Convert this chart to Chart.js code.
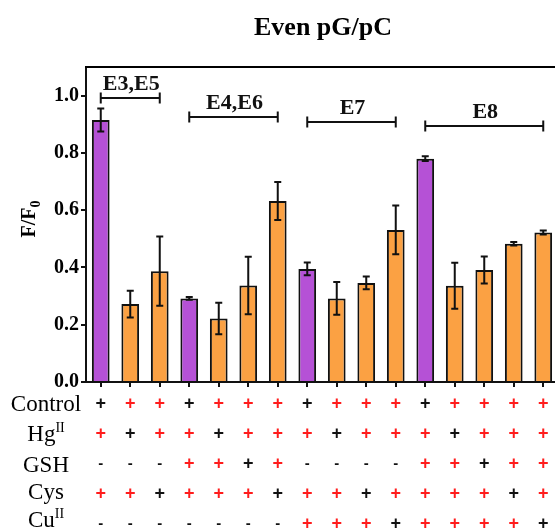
<!DOCTYPE html>
<html>
<head>
<meta charset="utf-8">
<script src="https://cdn.jsdelivr.net/npm/chart.js@4.4.1/dist/chart.umd.min.js"></script>
<style>
  html, body { margin: 0; padding: 0; background: #fff; overflow: hidden; }
  #wrap { position: relative; width: 558px; height: 531px; }
</style>
</head>
<body>
<div id="wrap"><canvas id="c" width="558" height="531"></canvas></div>
<script>
// ---- data ----
const chartTitle = 'Even pG/pC';
const categories = ['1','2','3','4','5','6','7','8','9','10','11','12','13','14','15','16'];
const values = [0.915, 0.272, 0.387, 0.292, 0.222, 0.337, 0.632, 0.395, 0.292, 0.346, 0.531, 0.780, 0.336, 0.391, 0.483, 0.522];
const errors = [0.040, 0.047, 0.121, 0.005, 0.055, 0.100, 0.066, 0.022, 0.057, 0.022, 0.085, 0.008, 0.080, 0.047, 0.006, 0.007];
const barType = ['P','O','O','P','O','O','O','P','O','O','O','P','O','O','O','O'];
const yTickValues = [0.0, 0.2, 0.4, 0.6, 0.8, 1.0];

const groupLabels = ['E3,E5', 'E4,E6', 'E7', 'E8'];
const groupStart = [0, 3, 7, 11];
const groupEnd   = [2, 6, 10, 15];
const groupLevel = [0.993, 0.925, 0.909, 0.895];

const rowNames = ['Control', 'Hg', 'GSH', 'Cys', 'Cu'];
const rowSups  = ['', 'II', '', '', 'II'];
// k = black "+", r = red "+", - = "-"
const rowControl = 'krrkrrrkrrrkrrrr'.split('');
const rowHg      = 'rkrrkrrrkrrrkrrr'.split('');
const rowGSH     = '---rrkr----rrkrr'.split('');
const rowCys     = 'rrkrrrkrrkrrrrkr'.split('');
const rowCu      = '-------rrrkrrrrk'.split('');
const tableRows = [rowControl, rowHg, rowGSH, rowCys, rowCu];

// ---- styles ----
const PURPLE = '#b551d6';
const ORANGE = '#fba143';
const RED = '#ff1c1c';
const SERIF = '"Liberation Serif", "Times New Roman", serif';
const SANS = '"Liberation Sans", Arial, sans-serif';

const decorPlugin = {
  id: 'decor',
  afterDatasetsDraw(chart) {
    const ctx = chart.ctx;
    const x = chart.scales.x, y = chart.scales.y;
    const area = chart.chartArea;
    ctx.save();
    // top frame line
    ctx.strokeStyle = '#000';
    ctx.lineWidth = 2;
    ctx.beginPath();
    ctx.moveTo(area.left - 1, area.top);
    ctx.lineTo(area.right + 5, area.top);
    ctx.stroke();

    // error bars
    ctx.lineWidth = 2;
    ctx.strokeStyle = '#111';
    values.forEach((v, i) => {
      const cx = x.getPixelForValue(i);
      const yt = y.getPixelForValue(v + errors[i]);
      const yb = y.getPixelForValue(v - errors[i]);
      ctx.beginPath();
      ctx.moveTo(cx, yt); ctx.lineTo(cx, yb);
      ctx.moveTo(cx - 3.5, yt); ctx.lineTo(cx + 3.5, yt);
      ctx.moveTo(cx - 3.5, yb); ctx.lineTo(cx + 3.5, yb);
      ctx.stroke();
    });

    // group brackets
    ctx.fillStyle = '#111';
    ctx.font = 'bold 22px ' + SERIF;
    ctx.textAlign = 'center';
    ctx.textBaseline = 'alphabetic';
    groupLabels.forEach((lab, g) => {
      const x1 = x.getPixelForValue(groupStart[g]);
      const x2 = x.getPixelForValue(groupEnd[g]);
      const yy = Math.round(y.getPixelForValue(groupLevel[g]));
      ctx.beginPath();
      ctx.moveTo(x1, yy); ctx.lineTo(x2, yy);
      ctx.moveTo(x1, yy - 5.5); ctx.lineTo(x1, yy + 5.5);
      ctx.moveTo(x2, yy - 5.5); ctx.lineTo(x2, yy + 5.5);
      ctx.stroke();
      ctx.fillText(lab, (x1 + x2) / 2 + 1, yy - 8);
    });

    // title
    ctx.font = 'bold 26px ' + SERIF;
    ctx.fillStyle = '#000';
    ctx.fillText(chartTitle, 323, 35);

    // y axis title F/F0
    ctx.save();
    ctx.translate(35, 219);
    ctx.rotate(-Math.PI / 2);
    ctx.font = 'bold 20px ' + SERIF;
    const w1 = ctx.measureText('F/F').width;
    ctx.font = 'bold 14px ' + SERIF;
    const w2 = ctx.measureText('0').width;
    const start = -(w1 + w2) / 2;
    ctx.textAlign = 'left';
    ctx.font = 'bold 20px ' + SERIF;
    ctx.fillText('F/F', start, 0);
    ctx.font = 'bold 14px ' + SERIF;
    ctx.fillText('0', start + w1, 5);
    ctx.restore();

    // condition table
    const rowY = [404, 434, 464, 494, 524];
    const labelBase = [411, 441, 472, 499, 527];
    rowNames.forEach((name, r) => {
      ctx.font = '23px ' + SERIF;
      const wn = ctx.measureText(name).width;
      ctx.font = '14px ' + SERIF;
      const ws = rowSups[r] ? ctx.measureText(rowSups[r]).width : 0;
      const sx = 46 - (wn + ws) / 2;
      ctx.textAlign = 'left';
      ctx.fillStyle = '#000';
      ctx.font = '23px ' + SERIF;
      ctx.fillText(name, sx, labelBase[r]);
      if (rowSups[r]) {
        ctx.font = '14px ' + SERIF;
        ctx.fillText(rowSups[r], sx + wn, labelBase[r] - 9);
      }
      ctx.textAlign = 'center';
      ctx.textBaseline = 'middle';
      tableRows[r].forEach((s, i) => {
        const cx = x.getPixelForValue(i);
        if (s === '-') {
          ctx.fillStyle = '#111';
          ctx.font = 'bold 15px ' + SANS;
          ctx.fillText('-', cx, rowY[r]);
        } else {
          ctx.fillStyle = s === 'r' ? RED : '#111';
          ctx.font = 'bold 18px ' + SANS;
          ctx.fillText('+', cx, rowY[r]);
        }
      });
      ctx.textBaseline = 'alphabetic';
    });
    ctx.restore();
  }
};

new Chart(document.getElementById('c'), {
  type: 'bar',
  data: {
    labels: categories,
    datasets: [{
      data: values,
      backgroundColor: barType.map(t => t === 'P' ? PURPLE : ORANGE),
      borderColor: '#111',
      borderWidth: 2,
      borderSkipped: 'start',
      categoryPercentage: 1.0,
      barPercentage: 0.6
    }]
  },
  options: {
    responsive: false,
    animation: false,
    devicePixelRatio: 1,
    layout: { padding: { top: 67, right: 0, left: 0, bottom: 0 } },
    plugins: { legend: { display: false }, tooltip: { enabled: false }, title: { display: false } },
    scales: {
      x: {
        offset: true,
        grid: { display: true, drawOnChartArea: false, drawTicks: true, tickLength: 5, color: '#111', lineWidth: 2, offset: false },
        border: { display: true, color: '#111', width: 2 },
        ticks: { display: false },
        afterFit(scale) { scale.height = 149; }
      },
      y: {
        min: 0, max: 1.1,
        grid: { display: true, drawOnChartArea: false, drawTicks: true, tickLength: 5, color: '#111', lineWidth: 2 },
        border: { display: true, color: '#111', width: 2 },
        ticks: {
          color: '#000',
          padding: 2,
          font: { family: SERIF, size: 20, weight: 'bold' },
          callback: (v) => Number(v).toFixed(1)
        },
        afterBuildTicks(scale) { scale.ticks = yTickValues.map(v => ({ value: v })); },
        afterFit(scale) { scale.width = 86; }
      }
    }
  },
  plugins: [decorPlugin]
});
</script>
</body>
</html>
